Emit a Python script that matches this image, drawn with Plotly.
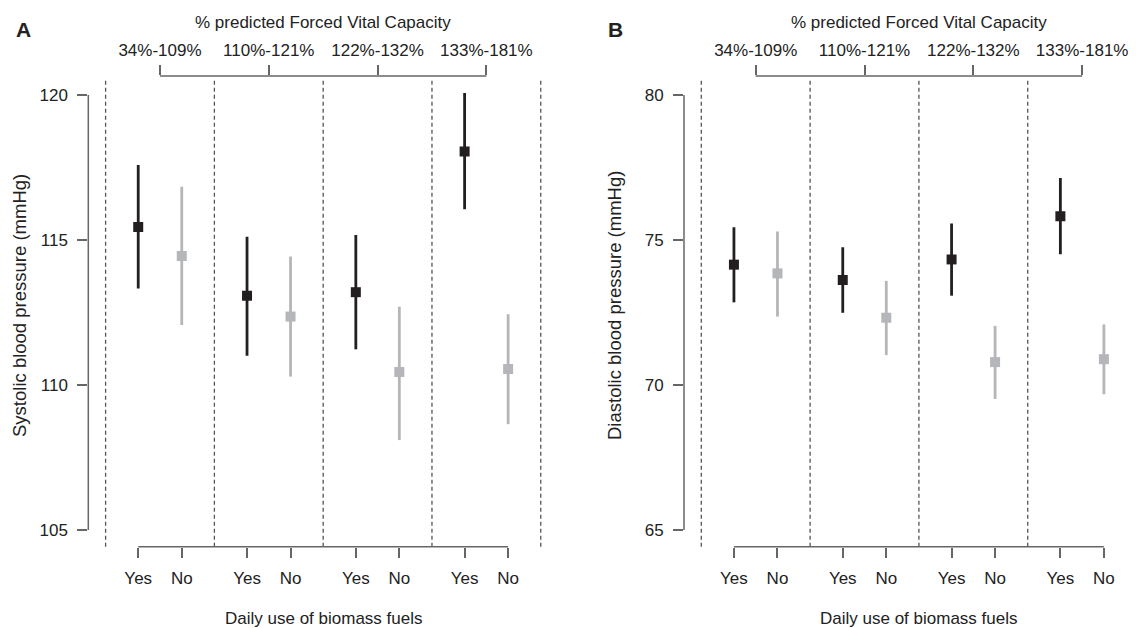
import plotly.graph_objects as go

# ---------------- data ----------------
groups = ["34%-109%", "110%-121%", "122%-132%", "133%-181%"]
fuel_labels = ["Yes", "No"]

# Panel A: systolic blood pressure (mmHg)
sys_yes_mean = [115.45, 113.08, 113.20, 118.05]
sys_yes_low = [113.33, 111.01, 111.23, 116.06]
sys_yes_high = [117.59, 115.11, 115.17, 120.07]
sys_no_mean = [114.45, 112.36, 110.45, 110.55]
sys_no_low = [112.07, 110.29, 108.10, 108.65]
sys_no_high = [116.84, 114.43, 112.70, 112.44]

# Panel B: diastolic blood pressure (mmHg)
dia_yes_mean = [74.15, 73.62, 74.33, 75.82]
dia_yes_low = [72.85, 72.49, 73.08, 74.51]
dia_yes_high = [75.44, 74.75, 75.57, 77.14]
dia_no_mean = [73.85, 72.32, 70.79, 70.89]
dia_no_low = [72.36, 71.03, 69.52, 69.68]
dia_no_high = [75.29, 73.59, 72.04, 72.09]

sys_ticks = [105, 110, 115, 120]
dia_ticks = [65, 70, 75, 80]

# ---------------- styling ----------------
FONT = "Liberation Sans, Arial, Helvetica, sans-serif"
TXT = "#222222"
AX = "#666666"
DARK = "#231f20"
GREY = "#b4b6b9"

centers = [i + 1 for i in range(len(groups))]
x_yes = [c - 0.2 for c in centers]
x_no = [c + 0.2 for c in centers]
bottom_vals = []
bottom_text = []
for c in centers:
    bottom_vals += [c - 0.2, c + 0.2]
    bottom_text += fuel_labels

fig = go.Figure()


def add_series(xs, mean, low, high, color, xa, ya, name):
    fig.add_trace(go.Scatter(
        x=xs, y=mean, mode="markers", name=name, showlegend=False,
        xaxis=xa, yaxis=ya,
        marker=dict(symbol="square", size=10, color=color),
        error_y=dict(type="data", symmetric=False,
                     array=[h - m for h, m in zip(high, mean)],
                     arrayminus=[m - l for m, l in zip(mean, low)],
                     width=0, thickness=2.8, color=color),
    ))


add_series(x_yes, sys_yes_mean, sys_yes_low, sys_yes_high, DARK, "x", "y", "Yes")
add_series(x_no, sys_no_mean, sys_no_low, sys_no_high, GREY, "x", "y", "No")
add_series(x_yes, dia_yes_mean, dia_yes_low, dia_yes_high, DARK, "x3", "y2", "Yes")
add_series(x_no, dia_no_mean, dia_no_low, dia_no_high, GREY, "x3", "y2", "No")

# invisible helper traces so that the top (FVC group) axes are rendered
for xa, ya, yt in (("x2", "y", sys_ticks), ("x4", "y2", dia_ticks)):
    fig.add_trace(go.Scatter(x=centers, y=[yt[0]] * len(centers), xaxis=xa, yaxis=ya,
                             mode="markers", marker=dict(opacity=0, size=1),
                             hoverinfo="skip", showlegend=False))

W, H = 1136, 628
ydom = [(H - 546.7) / H, (H - 76) / H]
xdomA = [88.3 / W, 546.2 / W]
xdomB = [684 / W, 1.0]
xrA = [0.341, 4.55]
xrB = [0.341, 4.495]

tickfont = dict(family=FONT, size=17, color=TXT)
common = dict(showgrid=False, zeroline=False, showline=False, ticks="outside",
              ticklen=10, tickwidth=1.5, tickcolor=AX, tickfont=tickfont,
              fixedrange=True)

fig.update_layout(
    width=W, height=H,
    margin=dict(l=0, r=0, t=0, b=0),
    paper_bgcolor="white", plot_bgcolor="white",
    font=dict(family=FONT, color=TXT, size=17),
    xaxis=dict(domain=xdomA, range=xrA, anchor="y", tickmode="array",
               tickvals=bottom_vals, ticktext=bottom_text, ticklabelstandoff=6, **common),
    xaxis2=dict(domain=xdomA, range=xrA, anchor="y", overlaying="x", side="top",
                tickmode="array", tickvals=centers, ticktext=groups,
                ticklabelstandoff=2, **common),
    xaxis3=dict(domain=xdomB, range=xrB, anchor="y2", tickmode="array",
                tickvals=bottom_vals, ticktext=bottom_text, ticklabelstandoff=6, **common),
    xaxis4=dict(domain=xdomB, range=xrB, anchor="y2", overlaying="x3", side="top",
                tickmode="array", tickvals=centers, ticktext=groups,
                ticklabelstandoff=2, **common),
    yaxis=dict(domain=ydom, range=[104.424, 120.655], anchor="x", tickmode="array",
               tickvals=sys_ticks, ticklabelstandoff=6, **common),
    yaxis2=dict(domain=ydom, range=[64.424, 80.655], anchor="x3", tickmode="array",
                tickvals=dia_ticks, ticklabelstandoff=6, **common),
)

shapes = []
for xr, yr, yt, xs in (("x", "y", sys_ticks, xrA), ("x3", "y2", dia_ticks, xrB)):
    # dashed separators (only those inside the visible range)
    for i in range(len(groups) + 1):
        if i + 0.5 > xs[1]:
            continue
        shapes.append(dict(type="line", xref=xr, yref=f"{yr} domain",
                           x0=i + 0.5, x1=i + 0.5, y0=0, y1=0.9943,
                           line=dict(color="#555555", width=1.3, dash="4px,3px")))
    # bottom axis line
    shapes.append(dict(type="line", xref=xr, yref=f"{yr} domain",
                       x0=bottom_vals[0], x1=bottom_vals[-1], y0=0, y1=0,
                       line=dict(color=AX, width=1.5)))
    # top axis line
    shapes.append(dict(type="line", xref=xr, yref=f"{yr} domain",
                       x0=centers[0], x1=centers[-1], y0=1, y1=1,
                       line=dict(color=AX, width=1.5)))
    # y axis line
    shapes.append(dict(type="line", xref=f"{xr} domain", yref=yr,
                       x0=0, x1=0, y0=yt[0], y1=yt[-1],
                       line=dict(color=AX, width=1.5)))
fig.update_layout(shapes=shapes)

ann = []
for letter, px in (("A", 23), ("B", 615)):
    ann.append(dict(text=f"<b>{letter}</b>", x=px / W, y=(H - 30) / H, xref="paper",
                    yref="paper", showarrow=False, xanchor="center", yanchor="middle",
                    font=dict(family=FONT, size=21, color=TXT)))
for xr in ("x", "x3"):
    ann.append(dict(text="% predicted Forced Vital Capacity", x=2.5, xref=xr,
                    y=(H - 22.7) / H, yref="paper", showarrow=False,
                    xanchor="center", yanchor="middle", font=dict(family=FONT, size=17, color=TXT)))
    ann.append(dict(text="Daily use of biomass fuels", x=2.5, xref=xr,
                    y=(H - 618) / H, yref="paper", showarrow=False,
                    xanchor="center", yanchor="middle", font=dict(family=FONT, size=17, color=TXT)))
for text, px in (("Systolic blood pressure (mmHg)", 19), ("Diastolic blood pressure (mmHg)", 614)):
    ann.append(dict(text=text, x=px / W, y=(H - 306) / H, xref="paper", yref="paper",
                    showarrow=False, textangle=-90, xanchor="center", yanchor="middle",
                    font=dict(family=FONT, size=18.5, color=TXT)))
fig.update_layout(annotations=ann)

fig.write_html("out.html", config={"displayModeBar": False},
               post_script="document.body.style.margin='0';document.body.style.overflow='hidden';")
